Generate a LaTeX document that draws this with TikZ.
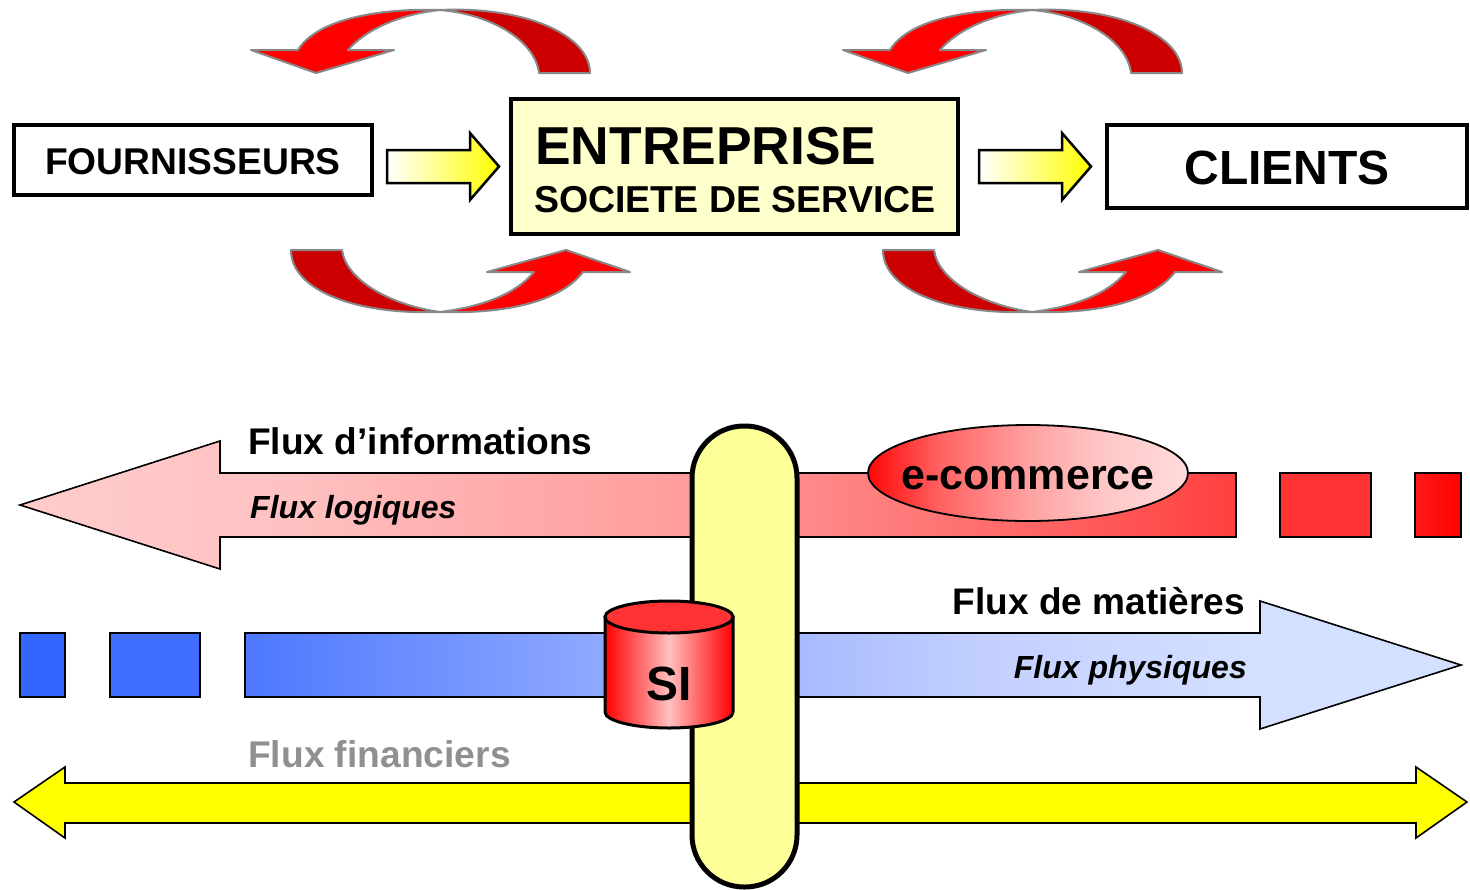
\documentclass[tikz,border=0pt]{standalone}
\usepackage{fontspec}
\setmainfont{Liberation Sans}
\usetikzlibrary{calc}
\definecolor{darkred}{HTML}{CC0000}
\definecolor{pureyellow}{HTML}{FFFF00}
\definecolor{pillfill}{HTML}{FFFF99}
\definecolor{boxfill}{HTML}{FFFFCC}
\definecolor{curveedge}{HTML}{888888}
\definecolor{bluefull}{HTML}{3366FF}
\definecolor{bluetwo}{HTML}{406FFF}
\definecolor{cyltop}{HTML}{FF3333}
\definecolor{cylmid}{HTML}{FFC0C0}
\definecolor{finance}{HTML}{909090}
\pgfdeclarehorizontalshading{redflowshade}{100bp}{rgb(0bp)=(1,.80,.80);rgb(25bp)=(1,.80,.80);rgb(36bp)=(1,.76,.76);rgb(42.7bp)=(1,.69,.69);rgb(52.5bp)=(1,.61,.61);rgb(57.1bp)=(1,.54,.54);rgb(65.3bp)=(1,.42,.42);rgb(75bp)=(1,.25,.25);rgb(100bp)=(1,.25,.25)}
\pgfdeclarehorizontalshading{blueflowshade}{100bp}{rgb(0bp)=(.30,.47,1);rgb(25bp)=(.30,.47,1);rgb(39.6bp)=(.56,.66,1);rgb(47.8bp)=(.66,.73,1);rgb(56bp)=(.77,.82,1);rgb(66.7bp)=(.83,.88,1);rgb(75bp)=(.83,.88,1);rgb(100bp)=(.83,.88,1)}
\pgfdeclarehorizontalshading{ecomshade}{100bp}{rgb(0bp)=(1,0,0);rgb(25bp)=(1,.03,.03);rgb(36bp)=(1,.38,.38);rgb(50bp)=(1,.63,.63);rgb(62bp)=(1,.78,.78);rgb(75bp)=(1,.86,.86);rgb(100bp)=(1,.86,.86)}
\newcommand{\fsz}[1]{\fontsize{#1}{#1}\selectfont\bfseries}
\tikzset{
  x=1pt,y=-1pt,
  framebox/.style={draw=black,line width=4pt,line join=miter},
  label/.style={inner sep=0pt,anchor=base west,text=black},
  curvedark/.style={draw=curveedge,line width=2pt,fill=darkred,line join=round},
  curvelight/.style={draw=curveedge,line width=2pt,fill=red,line join=round},
  flow/.style={draw=black,line width=1.6pt,line join=miter},
  smallarrow/.style={draw=black,line width=2.5pt,left color=white,right color=pureyellow,shading angle=90,line join=miter},
}
\newcommand{\topcurve}[1]{%
  \begin{scope}[xshift=#1]
    \path[curvedark] (440,10) .. controls (525,6) and (590,35) .. (590,73) -- (539,73) .. controls (535,40) and (490,14) .. (440,10) -- cycle;
    \path[curvelight] (440,10) .. controls (370,8) and (315,22) .. (298,50) -- (251,50) -- (316,73) -- (394,50) -- (348,50) .. controls (365,30) and (400,14) .. (440,10) -- cycle;
  \end{scope}}
\newcommand{\botcurve}[1]{%
  \begin{scope}[xshift=#1]
    \path[curvedark] (440,312) .. controls (355,315) and (291,290) .. (291,250) -- (342,250) .. controls (346,280) and (390,305) .. (440,312) -- cycle;
    \path[curvelight] (440,312) .. controls (505,314) and (560,302) .. (583,272) -- (630,272) -- (566,250) -- (487,272) -- (534,272) .. controls (515,295) and (480,307) .. (440,312) -- cycle;
  \end{scope}}
\begin{document}
\begin{tikzpicture}
\useasboundingbox (0,0) rectangle (1470,889);
% curved arrows
\topcurve{0pt}\topcurve{592pt}\botcurve{0pt}\botcurve{592pt}
% boxes
\path[framebox,fill=white] (14,125) rectangle (372,195);
\node[label,anchor=base] (four) at (193,174) {\fsz{37.2}FOURNISSEURS};
\path[framebox,fill=boxfill] (511,99) rectangle (958,234);
\node[label] (ent) at (535,164) {\fsz{53.4}ENTREPRISE};
\node[label] (soc) at (534,212) {\fsz{37.5}SOCIETE DE SERVICE};
\path[framebox,fill=white] (1107,125) rectangle (1467,208);
\node[label,anchor=base] (cli) at (1287,184) {\fsz{48}CLIENTS};
% small arrows
\path[smallarrow] (387,150) -- (470,150) -- (470,133) -- (499,166.5) -- (470,200) -- (470,183) -- (387,183) -- cycle;
\path[smallarrow] (979,150) -- (1062,150) -- (1062,133) -- (1091,166.5) -- (1062,200) -- (1062,183) -- (979,183) -- cycle;
% red flow
\path[flow,shading=redflowshade,shading angle=0] (20,505) -- (220,441) -- (220,473) -- (1236,473) -- (1236,537) -- (220,537) -- (220,569) -- cycle;
\path[flow,fill=cyltop] (1280,473) rectangle (1371,537);
\path[flow,left color=red!90!white,right color=red,shading angle=90] (1415,473) rectangle (1461,537);
% blue flow
\path[flow,fill=bluefull] (20,633) rectangle (65,697);
\path[flow,fill=bluetwo] (110,633) rectangle (200,697);
\path[flow,shading=blueflowshade,shading angle=0] (245,633) -- (1260,633) -- (1260,601) -- (1461,665) -- (1260,729) -- (1260,697) -- (245,697) -- cycle;
% yellow
\path[flow,fill=pureyellow] (14,802) -- (65,767) -- (65,783) -- (1416,783) -- (1416,767) -- (1467,802) -- (1416,838) -- (1416,823) -- (65,823) -- (65,838) -- cycle;
% pill
\path[draw=black,line width=5pt,fill=pillfill,rounded corners=52pt] (692,426) rectangle (797,887);
% ellipse
\path[draw=black,line width=1.8pt,shading=ecomshade,shading angle=0] (1028,473) ellipse [x radius=160,y radius=48];
\node[label,anchor=base] (ecom) at (1028,489) {\fsz{43}e-commerce};
% cylinder
\path[draw=black,line width=3pt,left color=red,right color=red,middle color=cylmid,shading angle=90] (605,617) -- (605,712) arc[start angle=180,end angle=360,x radius=64,y radius=-16] -- (733,617) -- cycle;
\path[draw=black,line width=3pt,fill=cyltop] (669,617) ellipse [x radius=64,y radius=16];
\node[label,anchor=base] (si) at (669,700) {\fsz{48}SI};
% labels
\node[label] (l1) at (248,454.5) {\fsz{37.1}Flux d’informations};
\node[label] (l2) at (250,518) {\fsz{32}\itshape Flux logiques};
\node[label,anchor=base east] (l3) at (1245,614.5) {\fsz{37}Flux de matières};
\node[label,anchor=base east] (l4) at (1247,678) {\fsz{32}\itshape Flux physiques};
\node[label,text=finance] (l5) at (248,767) {\fsz{37.2}Flux financiers};
\end{tikzpicture}
\end{document}
